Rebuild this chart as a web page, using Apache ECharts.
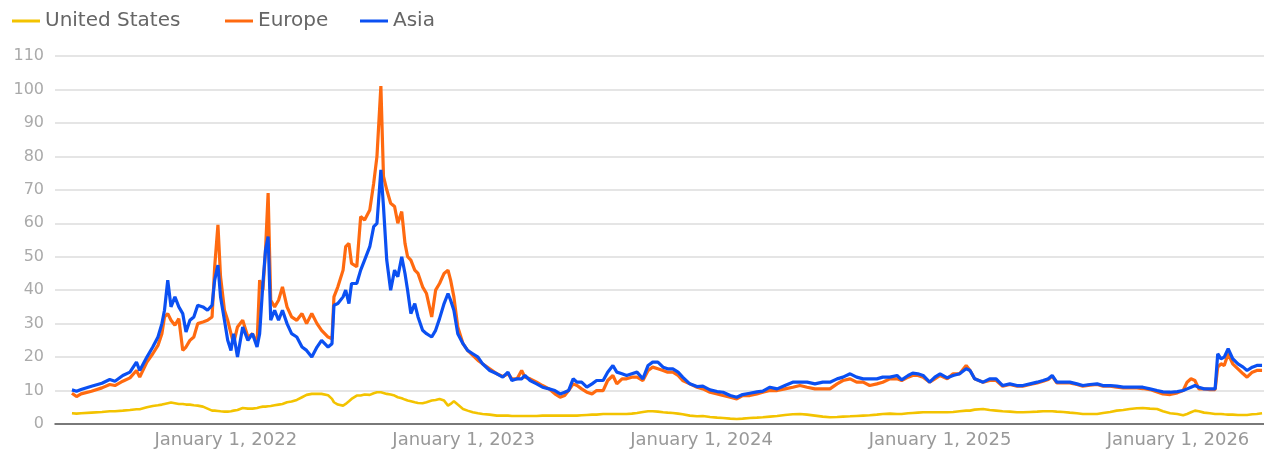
<!DOCTYPE html>
<html>
<head>
<meta charset="utf-8">
<script src="https://cdn.jsdelivr.net/npm/echarts@6/dist/echarts.min.js"></script>
<style>
  html, body { margin: 0; padding: 0; background: #fff; }
  #chart { width: 1264px; height: 450px; }
</style>
</head>
<body>
<div id="chart"></div>
<script>
// weekly-ish gas prices, $/MMBtu
var dates = [
  "2021-05-10","2021-05-17","2021-05-24","2021-06-09","2021-06-25","2021-07-07","2021-07-15","2021-07-27",
  "2021-08-07","2021-08-17","2021-08-22","2021-09-02","2021-09-11","2021-09-19","2021-09-25","2021-09-29",
  "2021-10-04","2021-10-09","2021-10-15","2021-10-21","2021-10-27","2021-11-01","2021-11-07","2021-11-13",
  "2021-11-19","2021-11-27","2021-12-04","2021-12-11","2021-12-15","2021-12-20","2021-12-24","2021-12-30",
  "2022-01-04","2022-01-09","2022-01-13","2022-01-19","2022-01-27","2022-02-04","2022-02-11","2022-02-18",
  "2022-02-22","2022-02-27","2022-03-03","2022-03-07","2022-03-11","2022-03-17","2022-03-23","2022-03-29",
  "2022-04-05","2022-04-12","2022-04-20","2022-04-28","2022-05-05","2022-05-13","2022-05-21","2022-05-28",
  "2022-06-07","2022-06-13","2022-06-16","2022-06-22","2022-06-30","2022-07-04","2022-07-09","2022-07-13",
  "2022-07-21","2022-07-27","2022-08-02","2022-08-10","2022-08-16","2022-08-21","2022-08-27","2022-08-31",
  "2022-09-05","2022-09-11","2022-09-17","2022-09-22","2022-09-28","2022-10-03","2022-10-07","2022-10-12",
  "2022-10-18","2022-10-23","2022-10-30","2022-11-05","2022-11-13","2022-11-19","2022-11-25","2022-12-02",
  "2022-12-08","2022-12-12","2022-12-17","2022-12-23","2022-12-31","2023-01-07","2023-01-15","2023-01-23",
  "2023-01-30","2023-02-10","2023-02-21","2023-03-02","2023-03-10","2023-03-16","2023-03-24","2023-03-31",
  "2023-04-05","2023-04-13","2023-04-23","2023-05-02","2023-05-12","2023-05-21","2023-05-29","2023-06-05",
  "2023-06-11","2023-06-18","2023-06-24","2023-07-01","2023-07-09","2023-07-17","2023-07-24","2023-08-03",
  "2023-08-10","2023-08-18","2023-08-24","2023-09-01","2023-09-08","2023-09-16","2023-09-24","2023-10-03",
  "2023-10-11","2023-10-18","2023-10-26","2023-11-03","2023-11-10","2023-11-18","2023-11-26","2023-12-03",
  "2023-12-14","2023-12-25","2024-01-03","2024-01-14","2024-01-25","2024-02-03","2024-02-14","2024-02-24",
  "2024-03-04","2024-03-15","2024-03-26","2024-04-04","2024-04-15","2024-04-26","2024-05-08","2024-05-20",
  "2024-05-31","2024-06-11","2024-06-23","2024-07-05","2024-07-16","2024-07-27","2024-08-05","2024-08-16",
  "2024-08-26","2024-09-05","2024-09-15","2024-09-26","2024-10-05","2024-10-16","2024-10-27","2024-11-03",
  "2024-11-13","2024-11-20","2024-11-28","2024-12-06","2024-12-16","2024-12-24","2025-01-01","2025-01-12",
  "2025-01-21","2025-01-31","2025-02-10","2025-02-16","2025-02-23","2025-03-08","2025-03-18","2025-03-28",
  "2025-04-07","2025-04-18","2025-04-29","2025-05-08","2025-05-19","2025-05-30","2025-06-08","2025-06-16",
  "2025-06-22","2025-06-29","2025-07-09","2025-07-19","2025-07-30","2025-08-08","2025-08-19","2025-08-30",
  "2025-09-08","2025-09-19","2025-09-29","2025-10-09","2025-10-19","2025-10-30","2025-11-08","2025-11-19",
  "2025-11-30","2025-12-09","2025-12-20","2025-12-31","2026-01-09","2026-01-15","2026-01-21","2026-01-27",
  "2026-02-02","2026-02-10","2026-02-19","2026-02-27","2026-03-03","2026-03-08","2026-03-13","2026-03-19",
  "2026-03-26","2026-04-03","2026-04-11","2026-04-17","2026-04-25","2026-05-02","2026-05-10"
];

var unitedStates = [
  3.2,3.1,3.2,3.4,3.6,3.8,3.8,4.0, 4.2,4.4,4.4,5.0,5.4,5.6,5.8,6.0,
  6.2,6.4,6.2,6.0,6.0,5.8,5.8,5.6, 5.5,5.2,4.6,4.0,4.0,3.9,3.8,3.7,
  3.7,3.8,4.0,4.2,4.8,4.6,4.6,4.8, 5.0,5.2,5.2,5.3,5.4,5.6,5.8,6.0,
  6.5,6.7,7.2,8.0,8.7,9.0,9.0,9.0, 8.6,7.5,6.5,5.8,5.5,6.0,6.8,7.5,
  8.5,8.5,8.8,8.7,9.2,9.5,9.5,9.3, 9.0,8.8,8.5,8.0,7.7,7.3,7.0,6.8,
  6.5,6.3,6.2,6.5,7.0,7.2,7.5,7.0, 5.5,6.0,6.8,5.8,4.5,4.0,3.5,3.2,
  3.0,2.8,2.5,2.5,2.5,2.4,2.4,2.4, 2.4,2.4,2.4,2.5,2.5,2.5,2.5,2.5,
  2.5,2.5,2.5,2.6,2.7,2.8,2.8,3.0, 3.0,3.0,3.0,3.0,3.0,3.1,3.3,3.6,
  3.8,3.8,3.7,3.5,3.4,3.3,3.1,2.9, 2.5,2.3,2.4,2.1,1.9,1.8,1.6,1.5,
  1.6,1.8,1.9,2.0,2.2,2.4,2.7,2.9, 3.0,2.8,2.5,2.2,2.0,2.1,2.2,2.3,
  2.4,2.5,2.6,2.8,3.0,3.1,3.0,3.0, 3.2,3.3,3.4,3.5,3.5,3.5,3.5,3.5,
  3.6,3.8,4.0,4.0,4.3,4.5,4.2,4.0, 3.8,3.7,3.5,3.5,3.6,3.7,3.8,3.8,
  3.8,3.7,3.6,3.4,3.2,3.0,3.0,3.0, 3.3,3.6,4.0,4.2,4.5,4.7,4.8,4.6,
  4.5,3.8,3.2,3.0,2.6,3.0,3.5,4.0, 3.8,3.4,3.2,3.0,3.0,3.0,2.9,2.8,
  2.8,2.7,2.7,2.7,2.9,3.0,3.2
];

var europe = [
  9.2,8.2,9.0,9.8,10.8,11.8,11.5,12.8, 13.8,16,14,18.5,21,23.5,27,32,
  33,31,29.5,31.5,22,23,25,26, 30,30.5,31,32,47,59.5,44,34,
  31,27,24,29,31,26,27,24, 43,40,52,69,37,35,37,41,
  35,32,31,33,30,33,30,28, 26,25.5,38,41,46,53,54,48,
  47,62,61,64,72,80,101,74, 70,66,65,60,63.5,54,50,49,
  46,45,41,39,32,40,42,45, 46,43,38,29,24,22,20.5,19,
  18,16.5,15,14.2,15,13.5,13.5,16, 14,13.5,12.5,11.5,10.5,9,8,8.5,
  10,12,11.5,10.5,9.5,9,10,10, 13,14.5,12,13.5,13.5,14,14,13,
  16,17,16.5,16,15.5,15.5,14.5,13, 12,11,10.5,9.5,9,8.5,8,7.5,
  8.5,8.5,9,9.5,10,10,10.5,11, 11.5,11,10.5,10.5,10.5,12,13,13.5,
  12.5,12.5,11.5,12,12.5,13.5,13.5,13, 14,14.5,14.5,14,12.5,13.5,14.5,13.5,
  15,15,17.5,16,13.5,12.5,13,13, 11.3,11.8,11.3,11.3,11.8,12.3,12.8,13.3,
  14.3,12.3,12.3,12.3,11.8,11.3,11.6,11.8, 11.3,11.3,11,10.8,10.8,10.8,10.6,10.3,
  9.6,9,8.8,9.3,10,12.5,13.5,13, 10.5,10.5,10.3,10.3,17,18,17.5,21,
  18,16.5,15,14,15.5,16,16
];

var asia = [
  10.2,9.8,10.3,11.3,12.2,13.3,12.8,14.5, 15.5,18.5,16,20,23,26,30,34,
  43,35,38,35,33,27.5,31,32, 35.5,35,34,35.5,43,47.5,38,31,
  25,22,27,20,29,25,27,23, 27,42,52,56,31,34,31,34,
  30,27,26,23,22,20,23,25, 23,24,35.5,36,38,40,36,42,
  42,46,49,53,59,60,76,65, 49,40,46,44,50,45,40,33,
  36,32,28,27,26,28,31.5,36, 39,37,34,27,24,22,21,20,
  18,16,15,14,15.5,13,13.5,13.5, 14.5,13,12,11,10.5,10,9,9.5,
  10,13.5,12.5,12.5,11,12,13,13, 15.5,17.5,15.5,15,14.5,15,15.5,13.5,
  17.5,18.5,18.5,17,16.5,16.5,15.5,14, 12,11.2,11.3,10.2,9.7,9.5,8.5,8,
  8.8,9.2,9.6,9.8,11,10.5,11.5,12.5, 12.5,12.5,12,12.5,12.5,13.5,14,15,
  14,13.5,13.5,13.5,14,14,14.5,13.2, 14.5,15.2,15,14.5,12.5,14,15,13.8,
  14.5,15,16.5,16,13.5,12.5,13.5,13.5, 11.5,12,11.5,11.5,12,12.5,13,13.5,
  14.5,12.5,12.5,12.5,12,11.5,11.8,12, 11.5,11.5,11.3,11,11,11,11,10.5,
  10,9.6,9.5,9.7,10,10.5,11,11.5, 11,10.5,10.5,10.5,21,19.5,20,22.5,
  19.5,18,17,16,17,17.5,17.5
];

var seriesNames = ["United States", "Europe", "Asia"];
var seriesColors = ["#f3c300", "#ff6a10", "#0b50f2"];
var yearTicks = ["2022-01-01", "2023-01-01", "2024-01-01", "2025-01-01", "2026-01-01"];

function ts(d) { return new Date(d + "T00:00:00Z").getTime(); }

function pairs(vals) {
  return dates.map(function (d, i) { return [ts(d), vals[i]]; });
}

var chart = echarts.init(document.getElementById("chart"), null, { renderer: "canvas" });

var legendText = { color: "#666", fontSize: 20, fontFamily: "DejaVu Sans" };
var legendLeft = [7, 220, 355];

var option = {
  animation: false,
  color: seriesColors,
  legend: seriesNames.map(function (n, i) {
    return {
      data: [n],
      left: legendLeft[i],
      top: 6,
      icon: "rect",
      itemWidth: 28,
      itemHeight: 3,
      itemGap: 0,
      textStyle: legendText,
      selectedMode: false
    };
  }),
  grid: { left: 55, right: 0, top: 56, bottom: 26, containLabel: false },
  xAxis: {
    type: "value",
    min: ts("2021-04-14"),
    max: ts("2026-05-13"),
    axisLine: { lineStyle: { color: "#555", width: 1.5 } },
    axisTick: { show: false },
    splitLine: { show: false },
    axisLabel: {
      customValues: yearTicks.map(ts),
      color: "#999",
      fontSize: 18,
      fontFamily: "DejaVu Sans",
      margin: 7,
      formatter: function (v) {
        return "January 1, " + new Date(v).getUTCFullYear();
      }
    }
  },
  yAxis: {
    type: "value",
    min: 0,
    max: 110,
    interval: 10,
    axisLine: { show: false },
    axisTick: { show: false },
    splitLine: { lineStyle: { color: "#dcdcdc", width: 1.5 } },
    axisLabel: { color: "#aaa", fontSize: 16, fontFamily: "DejaVu Sans", margin: 11 }
  },
  series: [
    { name: seriesNames[0], type: "line", symbol: "none", data: pairs(unitedStates), lineStyle: { width: 2.6 } },
    { name: seriesNames[1], type: "line", symbol: "none", data: pairs(europe), lineStyle: { width: 3.2 } },
    { name: seriesNames[2], type: "line", symbol: "none", data: pairs(asia), lineStyle: { width: 3.2 } }
  ]
};

chart.setOption(option);
</script>
</body>
</html>
